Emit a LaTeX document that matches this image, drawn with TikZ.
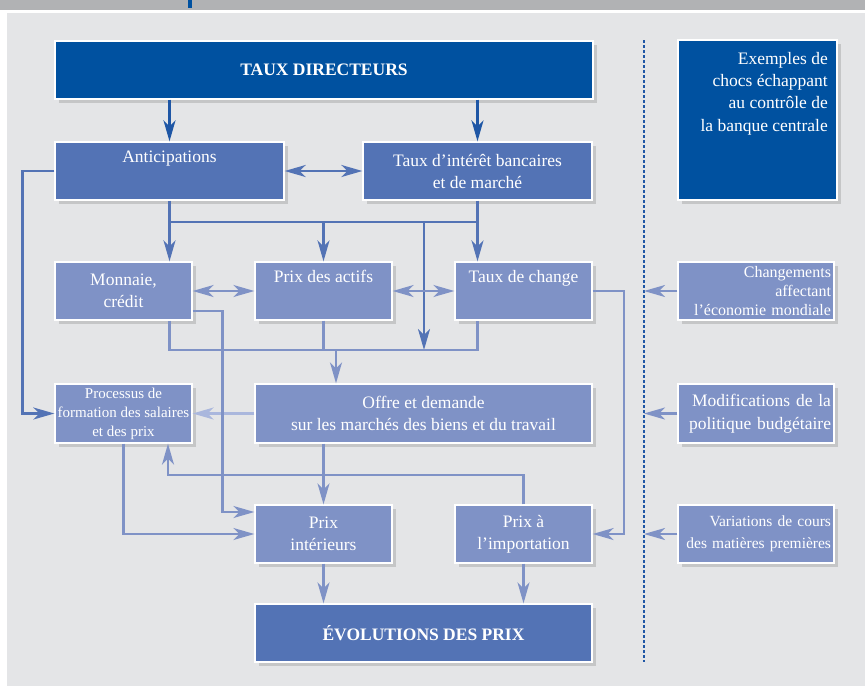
\documentclass[tikz,border=0pt]{standalone}
\usepackage{fontspec}
\setmainfont{Liberation Serif}
\usetikzlibrary{arrows.meta,%
		shadows,%
		calc}

\definecolor{bleufonce}{RGB}{0,81,160}
\definecolor{bleumoyen}{RGB}{83,115,181}
\definecolor{bleuclair}{RGB}{127,146,198}
\definecolor{bleupale}{RGB}{170,183,221}
\definecolor{trait}{RGB}{30,86,165}
\definecolor{fond}{RGB}{228,229,231}
\definecolor{bande}{RGB}{177,178,180}

\tikzset{
  boite/.style={draw=white, line width=1.3pt, text=white, align=center,
    inner sep=0pt, font=\fontsize{17.5}{22}\selectfont,
    drop shadow={opacity=.3, shadow xshift=4pt, shadow yshift=-4pt}},
  fonce/.style={boite, fill=bleufonce},
  moyen/.style={boite, fill=bleumoyen},
  clair/.style={boite, fill=bleuclair},
  choc/.style={clair, minimum width=156pt, text width=150pt, inner xsep=3pt, align=right},
  fleche/.style={-{Stealth[length=21pt,width=12pt,inset=6pt]}},
  double/.style={{Stealth[length=21pt,width=12pt,inset=6pt]}-{Stealth[length=21pt,width=12pt,inset=6pt]}},
  lfonce/.style={draw=trait, line width=2.5pt},
  lmoyen/.style={draw=bleumoyen, line width=2.5pt},
  lclair/.style={draw=bleuclair, line width=2.3pt},
  lpale/.style={draw=bleupale, line width=2.3pt}
}

\begin{document}
\begin{tikzpicture}[x=1pt,y=-1pt]
\useasboundingbox (0,0) rectangle (865,686);
%fond
\fill[white] (0,0) rectangle (865,686);
\fill[bande] (0,0) rectangle (865,10);
\fill[bleufonce] (188,0) rectangle (192,8);
\fill[fond] (7,13) rectangle (865,686);

%boites
\node[fonce, minimum width=538pt, minimum height=58pt] (taux) at (324,70) {\bfseries TAUX DIRECTEURS};
\node[fonce, minimum width=159pt, minimum height=160pt] (ex) at (757.5,120) {};
\node[anchor=north east, align=right, text=white, inner sep=0pt,
  font=\fontsize{17.5}{22.3}\selectfont] (extxt) at (828,52)
  {Exemples de\\chocs échappant\\au contrôle de\\la banque centrale};

\node[moyen, minimum width=229pt, minimum height=58pt] (ant) at (169.5,171) {Anticipations\\\strut};
\node[moyen, minimum width=229pt, minimum height=58pt] (tid) at (477.5,171) {Taux d’intérêt bancaires\\et de marché};

\node[clair, minimum width=137pt, minimum height=58pt] (mon) at (123.5,291) {Monnaie,\\crédit};
\node[clair, minimum width=137pt, minimum height=58pt] (act) at (323.5,291) {Prix des actifs\\\strut};
\node[clair, minimum width=137pt, minimum height=58pt] (chg) at (523.5,291) {Taux de change\\\strut};

\node[clair, minimum width=137pt, minimum height=59pt, font=\fontsize{15}{19}\selectfont] (proc) at (123.5,413.5)
  {Processus de\\formation des salaires\\et des prix};
\node[clair, minimum width=337pt, minimum height=59pt] (off) at (423.5,413.5)
  {Offre et demande\\sur les marchés des biens et du travail};

\node[clair, minimum width=137pt, minimum height=58pt] (pint) at (323.5,534) {Prix\\intérieurs};
\node[clair, minimum width=137pt, minimum height=58pt] (pimp) at (523.5,534) {Prix à\\l’importation};

\node[moyen, minimum width=337pt, minimum height=58pt] (evo) at (423.5,633) {\bfseries ÉVOLUTIONS DES PRIX};

%chocs
\node[choc, minimum height=58pt, font=\fontsize{16}{19}\selectfont] (cha) at (756,291)
  {Changements\\affectant\\l’économie mondiale};
\node[choc, minimum height=59pt, font=\fontsize{17.5}{23}\selectfont] (modif) at (756,413.5)
  {Modifications de la\\politique budgétaire};
\node[choc, minimum height=58pt, font=\fontsize{15.5}{22}\selectfont] (var) at (756,534)
  {Variations de cours\\des matières premières};

%pointilles
\coordinate (dh) at (644,40);
\coordinate (db) at (644,662);
\draw[trait, line width=1.2pt, dash pattern=on 3pt off 2pt] (dh) -- (db);

\coordinate (jA) at (0,222);
\coordinate (jB) at (424,222);
\coordinate (jC) at (424,350);
\coordinate (jD) at (0,350);
\coordinate (jE) at (336,350);
\coordinate (cI) at (168,475);

%fleches
\draw[lfonce, fleche] (taux.south -| ant.north) -- (ant.north);
\draw[lfonce, fleche] (taux.south -| tid.north) -- (tid.north);
\draw[lmoyen, double] (ant.east) -- (tid.west);

\draw[lmoyen, fleche] (ant.south) -- (ant.south |- mon.north);
\draw[lmoyen] (ant.south |- jA) -- (tid.south |- jA);
\draw[lmoyen, fleche] (act.north |- jA) -- (act.north);
\draw[lmoyen, fleche] (tid.south) -- (tid.south |- chg.north);
\draw[lmoyen, fleche] (jB) -- (jC);

\draw[lclair, double] (mon.east) -- (act.west);
\draw[lclair, double] (act.east) -- (chg.west);

\draw[lclair] (ant.south |- mon.south) -- (ant.south |- jD) -- (tid.south |- jD) -- (tid.south |- chg.south);
\draw[lclair] (act.south) -- (act.south |- jD);
\draw[lclair, fleche] (jE) -- (jE |- off.north);

\draw[lmoyen, fleche] (ant.west) -| ([xshift=-32pt]proc.west) -- (proc.west);
\draw[lpale, fleche] (off.west) -- (proc.east);

\draw[lclair, fleche] ([yshift=-20pt]mon.east) -| ([xshift=-32pt,yshift=22pt]pint.west) -- ([yshift=22pt]pint.west);
\draw[lclair, fleche] (proc.south) |- (pint.west);
\draw[lclair, fleche] (pint.north |- off.south) -- (pint.north);
\draw[lclair, fleche] (pimp.north) |- (cI) -- (cI |- proc.south);
\draw[lclair, fleche] (chg.east) -| ([xshift=31pt]pimp.east) -- (pimp.east);

\draw[lclair, fleche] (pint.south) -- (pint.south |- evo.north);
\draw[lclair, fleche] (pimp.south) -- (pimp.south |- evo.north);

\draw[lclair, fleche] (cha.west) -- (cha.west -| dh);
\draw[lclair, fleche] (modif.west) -- (modif.west -| dh);
\draw[lclair, fleche] (var.west) -- (var.west -| dh);
\end{tikzpicture}
\end{document}
